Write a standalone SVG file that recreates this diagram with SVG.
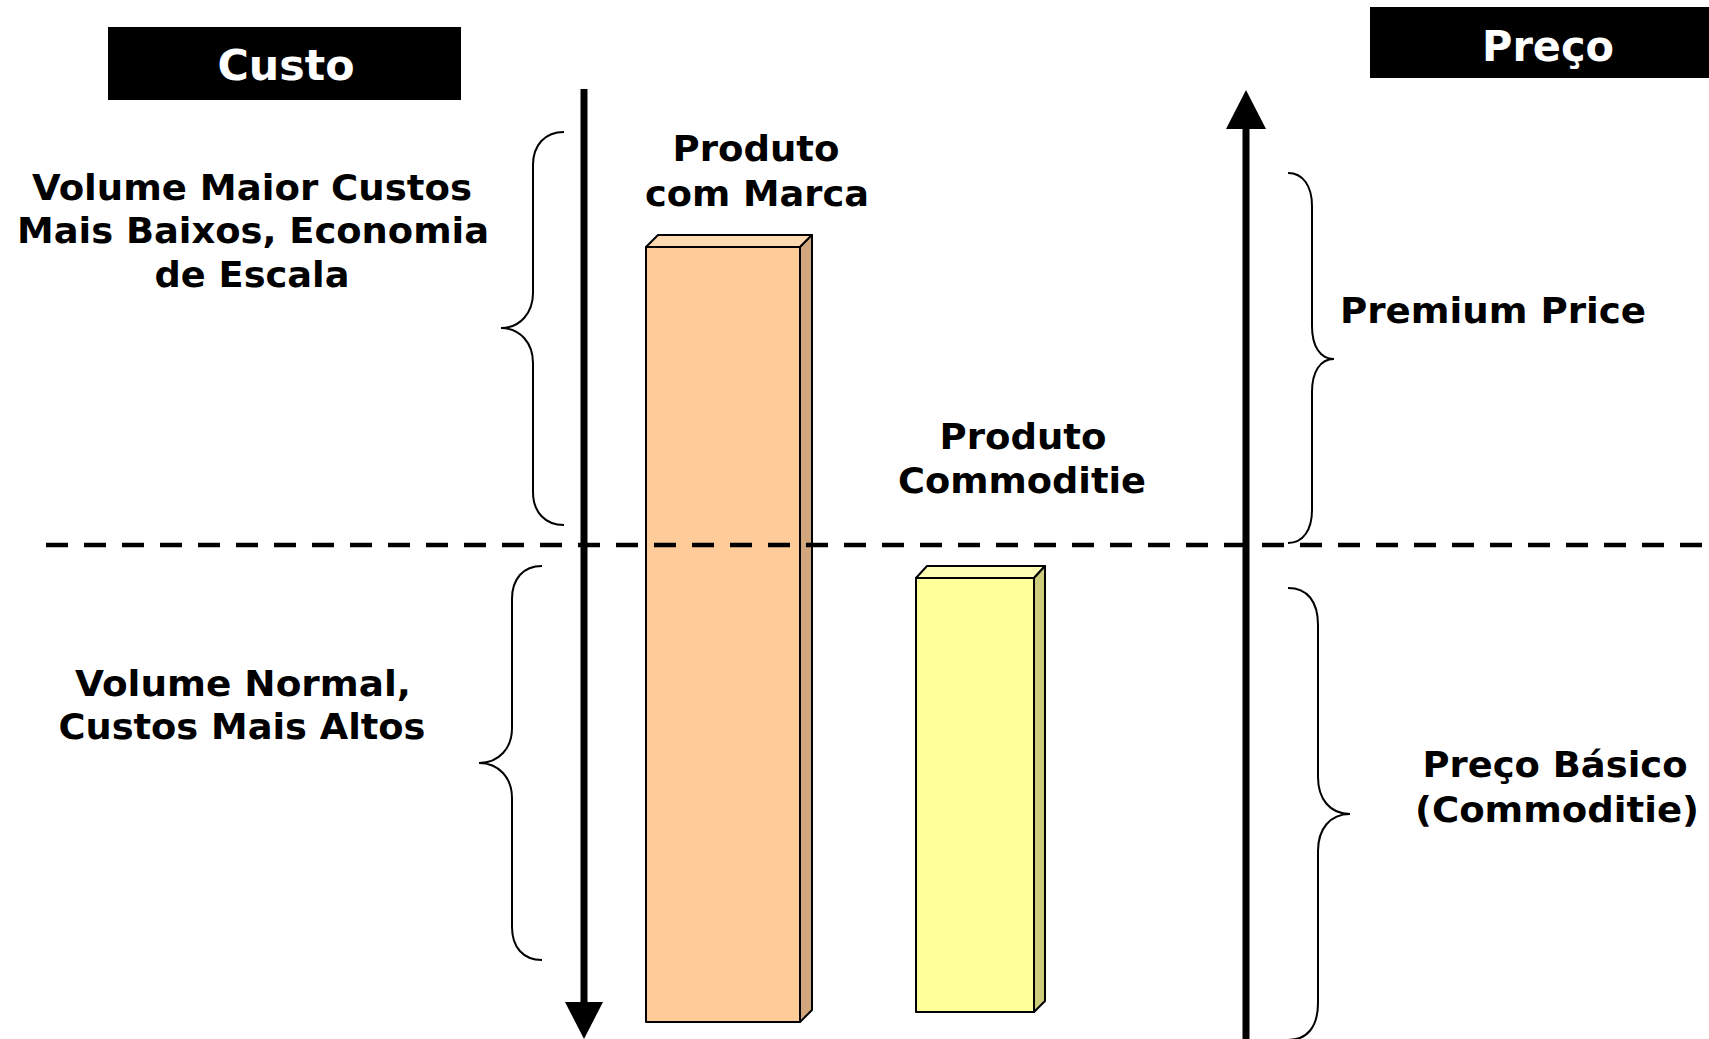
<svg xmlns="http://www.w3.org/2000/svg" width="1709" height="1039" viewBox="0 0 1709 1039">
<style>
.t{font-family:"DejaVu Sans","Verdana","Liberation Sans",sans-serif;font-weight:bold;font-size:35px;fill:#000;text-anchor:middle}
.h{font-family:"DejaVu Sans","Verdana","Liberation Sans",sans-serif;font-weight:bold;font-size:42px;fill:#fff;text-anchor:middle}
.br{fill:none;stroke:#000;stroke-width:2}
.bar{stroke:#000;stroke-width:2;stroke-linejoin:round}
</style>
<rect width="1709" height="1039" fill="#fff"/>
<g id="bar-marca">
<polygon class="bar" points="646,247 658,235 812,235 800,247" fill="#FFD9B0"/>
<polygon class="bar" points="800,247 812,235 812,1010 800,1022" fill="#D2A67C"/>
<rect class="bar" x="646" y="247" width="154" height="775" fill="#FFCC99"/>
</g>
<g id="bar-commoditie">
<polygon class="bar" points="916,578 927,566 1045,566 1034,578" fill="#FFFFB3"/>
<polygon class="bar" points="1034,578 1045,566 1045,1001 1034,1012" fill="#CCCC7A"/>
<rect class="bar" x="916" y="578" width="118" height="434" fill="#FFFF99"/>
</g>
<g id="connectors">
<line x1="46" y1="545" x2="1709" y2="545" stroke="#000" stroke-width="4.5" stroke-dasharray="22 16"/>
<line x1="584" y1="89" x2="584" y2="1004" stroke="#000" stroke-width="7"/>
<polygon points="565,1002 603,1002 584,1039" fill="#000"/>
<line x1="1246" y1="127" x2="1246" y2="1039" stroke="#000" stroke-width="7"/>
<polygon points="1226,129 1266,129 1246,90" fill="#000"/>
</g>
<g id="brace-volume-maior">
<path class="br" d="M564,132 C545,132 533,145 533,165 L533,293 C533,313 520,328 501,328 C520,328 533,343 533,363 L533,492 C533,512 545,525 564,525"/>
</g>
<g id="brace-volume-normal">
<path class="br" d="M542,566 C523,566 512,579 512,599 L512,728 C512,748 499,763 479,763 C499,763 512,778 512,798 L512,927 C512,947 523,960 542,960"/>
</g>
<g id="brace-premium">
<path class="br" d="M1288,173 C1303,173 1312,186 1312,206 L1312,326 C1312,346 1320,359 1334,359 C1320,359 1312,372 1312,392 L1312,510 C1312,530 1303,543 1288,543"/>
</g>
<g id="brace-basico">
<path class="br" d="M1288,588 C1307,588 1318,601 1318,625 L1318,777 C1318,799 1330,814 1350,814 C1330,814 1318,829 1318,851 L1318,1003 C1318,1027 1307,1040 1288,1040"/>
</g>
<g id="custo">
<rect x="108" y="27" width="353" height="73" fill="#000"/>
<text class="h" x="286" y="80" textLength="137" lengthAdjust="spacingAndGlyphs">Custo</text>
</g>
<g id="preco">
<rect x="1370" y="7" width="345" height="71" fill="#000"/>
<text class="h" x="1548" y="61" textLength="132" lengthAdjust="spacingAndGlyphs">Preço</text>
</g>
<g id="label-volume-maior">
<text class="t" x="252" y="200" textLength="440" lengthAdjust="spacingAndGlyphs">Volume Maior Custos</text>
<text class="t" x="253" y="243" textLength="472" lengthAdjust="spacingAndGlyphs">Mais Baixos, Economia</text>
<text class="t" x="252" y="287" textLength="195" lengthAdjust="spacingAndGlyphs">de Escala</text>
</g>
<g id="label-produto-marca">
<text class="t" x="756" y="161" textLength="167" lengthAdjust="spacingAndGlyphs">Produto</text>
<text class="t" x="757" y="206" textLength="224" lengthAdjust="spacingAndGlyphs">com Marca</text>
</g>
<g id="label-produto-commoditie">
<text class="t" x="1023" y="449" textLength="167" lengthAdjust="spacingAndGlyphs">Produto</text>
<text class="t" x="1022" y="493" textLength="248" lengthAdjust="spacingAndGlyphs">Commoditie</text>
</g>
<g id="label-premium">
<text class="t" x="1493" y="323" textLength="306" lengthAdjust="spacingAndGlyphs">Premium Price</text>
</g>
<g id="label-volume-normal">
<text class="t" x="243" y="696" textLength="336" lengthAdjust="spacingAndGlyphs">Volume Normal,</text>
<text class="t" x="242" y="739" textLength="367" lengthAdjust="spacingAndGlyphs">Custos Mais Altos</text>
</g>
<g id="label-preco-basico">
<text class="t" x="1555" y="777" textLength="265" lengthAdjust="spacingAndGlyphs">Preço Básico</text>
<text class="t" x="1557" y="822" textLength="284" lengthAdjust="spacingAndGlyphs">(Commoditie)</text>
</g>
</svg>
